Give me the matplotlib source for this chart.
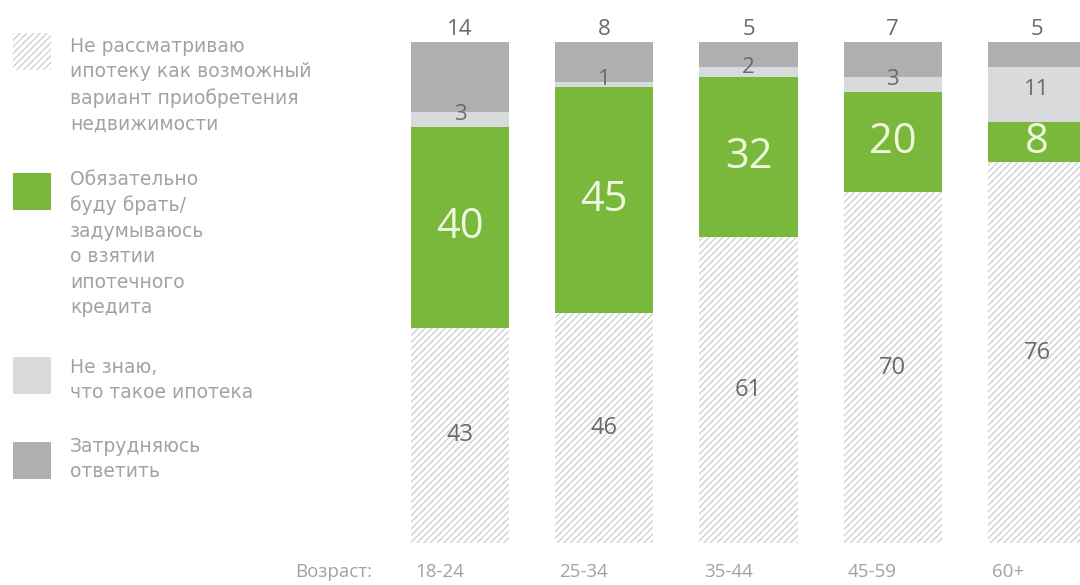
import numpy as np
import matplotlib
matplotlib.use("Agg")
import matplotlib.pyplot as plt
from matplotlib.patches import Rectangle

ages = ["18-24", "25-34", "35-44", "45-59", "60+"]
not_consider = [43, 46, 61, 70, 76]
will_take = [40, 45, 32, 20, 8]
dont_know = [3, 1, 2, 3, 11]
hard_to_say = [14, 8, 5, 7, 5]

legend_labels = [
    "Не рассматриваю\nипотеку как возможный\nвариант приобретения\nнедвижимости",
    "Обязательно\nбуду брать/\nзадумываюсь\nо взятии\nипотечного\nкредита",
    "Не знаю,\nчто такое ипотека",
    "Затрудняюсь\nответить",
]

GREEN = "#79b83a"
LIGHT = "#d9dadb"
DARK = "#aeafb0"
HATCH = "#cdcdcd"
TXT = "#a2a2a2"
NUM = "#6a6a6a"

plt.rcParams["hatch.linewidth"] = 0.9
plt.rcParams["hatch.color"] = HATCH

fig = plt.figure(figsize=(10.8, 5.85), dpi=100)
fig.patch.set_facecolor("white")

# main bar axes: x from 400px to 1080px, y=0 at 543px, y=100 at 42px
ax = fig.add_axes([400 / 1080, 42 / 585, 680 / 1080, 501 / 585])
x = np.arange(len(ages))
w = 0.68
ax.set_xlim(-0.416, 4.298)
ax.set_ylim(0, 100)
ax.axis("off")

b0 = np.zeros(len(ages))
ax.bar(x, not_consider, w, bottom=b0, color="white", edgecolor=HATCH,
       hatch="/////", linewidth=0)
b1 = b0 + np.array(not_consider)
ax.bar(x, will_take, w, bottom=b1, color=GREEN, linewidth=0)
b2 = b1 + np.array(will_take)
ax.bar(x, dont_know, w, bottom=b2, color=LIGHT, linewidth=0)
b3 = b2 + np.array(dont_know)
ax.bar(x, hard_to_say, w, bottom=b3, color=DARK, linewidth=0)
top = b3 + np.array(hard_to_say)

numfont = "Open Sans"
for i in range(len(ages)):
    ax.text(x[i], not_consider[i] / 2, str(not_consider[i]), ha="center",
            va="center", fontsize=17, color=NUM, family=numfont)
    ax.text(x[i], b1[i] + will_take[i] / 2, str(will_take[i]), ha="center",
            va="center", fontsize=30, color="#eef8dc", family=numfont)
    ax.text(x[i], b2[i] + dont_know[i] / 2 + 1, str(dont_know[i]), ha="center",
            va="center", fontsize=16, color=NUM, family=numfont)
    ax.text(x[i], top[i] + 2.5, str(hard_to_say[i]), ha="center",
            va="center", fontsize=16, color=NUM, family=numfont)
    ax.text(x[i] - w / 2 + 0.03, -5.8, ages[i], ha="left", va="center",
            fontsize=13.5, color=TXT, family=numfont, clip_on=False)

# overlay axes in pixel units for the legend block
lax = fig.add_axes([0, 0, 1, 1], zorder=-1)
lax.set_xlim(0, 1080)
lax.set_ylim(585, 0)
lax.axis("off")

lax.text(372, 572, "Возраст:", ha="right", va="center", fontsize=13.5,
         color=TXT, family=numfont)

icon_tops = [33, 173, 357, 442]
text_tops = [37, 170, 358, 437]
styles = [
    dict(facecolor="white", edgecolor=HATCH, hatch="/////", linewidth=0),
    dict(facecolor=GREEN, linewidth=0),
    dict(facecolor=LIGHT, linewidth=0),
    dict(facecolor=DARK, linewidth=0),
]
for it, tt, st, lab in zip(icon_tops, text_tops, styles, legend_labels):
    lax.add_patch(Rectangle((13, it), 38, 37, **st))
    lax.text(70, tt, lab, ha="left", va="top", fontsize=13.5, color=TXT,
             linespacing=1.43)

fig.savefig("out.png", dpi=100, facecolor="white")
